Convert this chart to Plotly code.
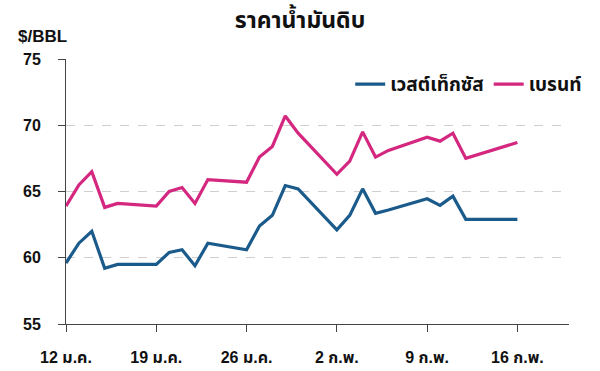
import plotly.graph_objects as go

dates = ["2015-01-12", "2015-01-13", "2015-01-14", "2015-01-15", "2015-01-16",
         "2015-01-19", "2015-01-20", "2015-01-21", "2015-01-22", "2015-01-23",
         "2015-01-26", "2015-01-27", "2015-01-28", "2015-01-29", "2015-01-30",
         "2015-02-02", "2015-02-03", "2015-02-04", "2015-02-05", "2015-02-06",
         "2015-02-09", "2015-02-10", "2015-02-11", "2015-02-12", "2015-02-16"]

wti = [59.6, 61.1, 62.0, 59.2, 59.5,
       59.5, 60.4, 60.6, 59.4, 61.1,
       60.6, 62.4, 63.2, 65.45, 65.2,
       62.1, 63.2, 65.2, 63.35, 63.6,
       64.45, 63.95, 64.65, 62.9, 62.9]

brent = [63.9, 65.5, 66.5, 63.8, 64.1,
         63.9, 65.0, 65.3, 64.1, 65.9,
         65.7, 67.6, 68.4, 70.7, 69.4,
         66.3, 67.3, 69.5, 67.6, 68.1,
         69.1, 68.8, 69.4, 67.5, 68.7]

tick_dates = ["2015-01-12", "2015-01-19", "2015-01-26", "2015-02-02", "2015-02-09", "2015-02-16"]
tick_labels = ["12 ม.ค.", "19 ม.ค.", "26 ม.ค.", "2 ก.พ.", "9 ก.พ.", "16 ก.พ."]
y_ticks = [55, 60, 65, 70, 75]

series_names = ["เวสต์เท็กซัส", "เบรนท์"]
colors = ["#1b5b8c", "#d4277f"]

FONT = "Liberation Sans, Noto Sans Thai, Noto Sans, sans-serif"
TXT = "#111"

fig = go.Figure()
for name, vals, col in zip(series_names, [wti, brent], colors):
    fig.add_trace(go.Scatter(x=dates, y=vals, mode="lines", name=name,
                             line=dict(color=col, width=3.2)))

fig.update_layout(
    width=600, height=371,
    margin=dict(l=66, r=31, t=59, b=47, autoexpand=False),
    paper_bgcolor="white", plot_bgcolor="white",
    font=dict(family=FONT, size=16, color=TXT),
    title=dict(text="ราคาน้ำมันดิบ", x=0.5, xanchor="center", y=0.945, yanchor="middle",
               font=dict(family=FONT, size=23, weight="bold", color=TXT)),
    legend=dict(orientation="h", x=0.565, y=0.905, xanchor="left", yanchor="middle",
                font=dict(family=FONT, size=19, weight="bold", color=TXT),
                bgcolor="rgba(0,0,0,0)", itemwidth=30, tracegroupgap=0),
    showlegend=True,
)

fig.update_xaxes(
    type="date", range=["2015-01-12", "2015-02-20"], automargin=False,
    tickvals=tick_dates, ticktext=tick_labels,
    showline=True, linecolor="#444", linewidth=1,
    ticks="outside", ticklen=7, tickcolor="#444",
    showgrid=False, zeroline=False,
    tickfont=dict(family=FONT, size=16, weight="bold", color=TXT),
    ticklabelstandoff=12,
)
fig.update_yaxes(
    range=[55, 75], tickvals=y_ticks, automargin=False,
    showline=True, linecolor="#444", linewidth=1,
    ticks="outside", ticklen=7, tickcolor="#444",
    showgrid=True, gridcolor="#cfcfcf", griddash="dash", gridwidth=1,
    zeroline=False,
    tickfont=dict(family=FONT, size=16, weight="bold", color=TXT),
    ticklabelstandoff=14,
)

fig.add_annotation(text="$/BBL", xref="paper", yref="paper", x=-0.1, y=1.085,
                   xanchor="left", yanchor="middle", showarrow=False,
                   font=dict(family=FONT, size=17, weight="bold", color=TXT))

fig.write_html("out.html", config={"displayModeBar": False},
               post_script="document.body.style.margin='0';document.body.style.padding='0';")
